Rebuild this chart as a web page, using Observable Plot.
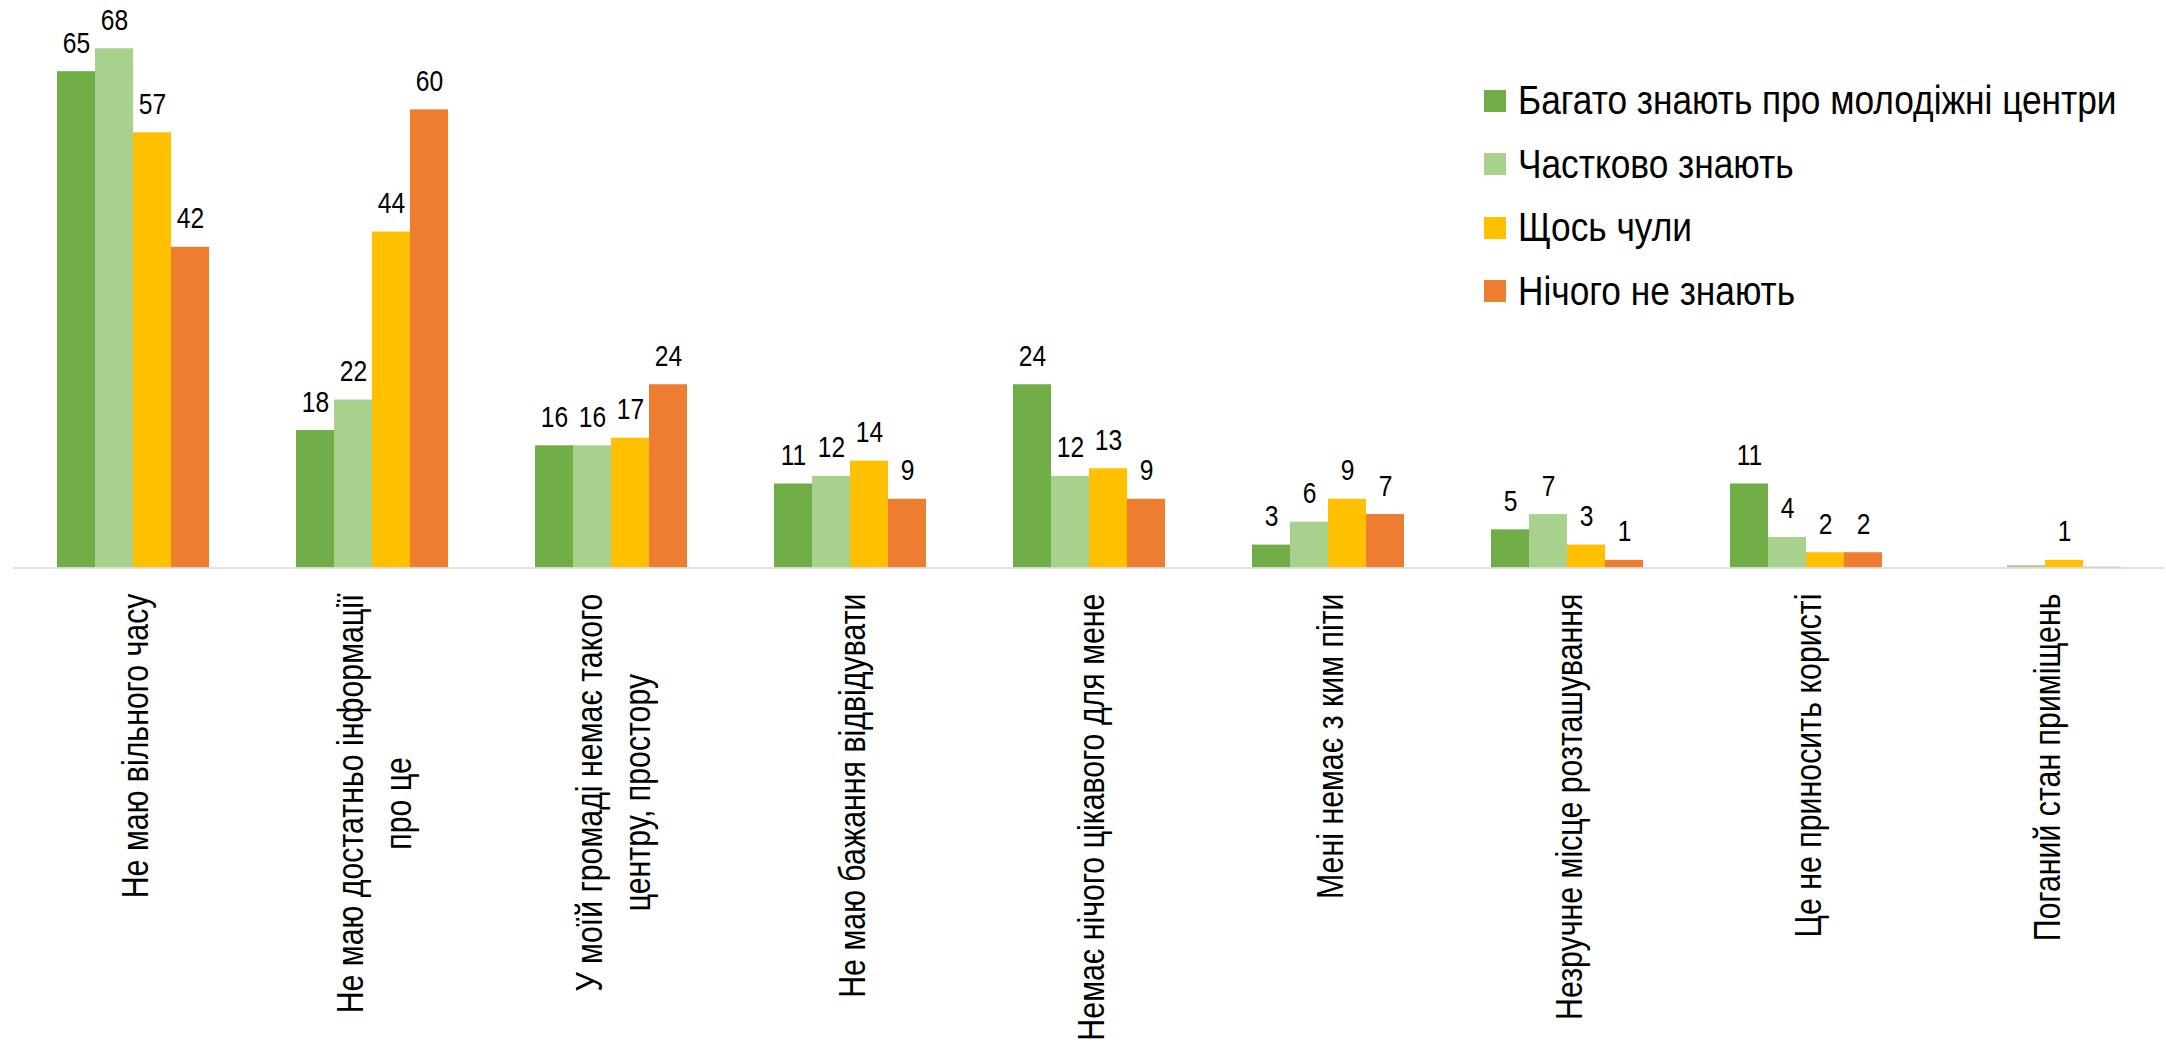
<!DOCTYPE html>
<html>
<head>
<meta charset="utf-8">
<script src="https://cdn.jsdelivr.net/npm/d3@7"></script>
<script src="https://cdn.jsdelivr.net/npm/@observablehq/plot@0.6"></script>
<style>
  body { margin: 0; background: #fff; }
  #wrap { position: relative; width: 2166px; height: 1044px; overflow: hidden; background: #fff; }
  .legend { position: absolute; left: 1484px; top: 69px; font-family: 'Liberation Sans Narrow','Arial Narrow','Liberation Sans',Arial,sans-serif; font-size: 41px; color: #000; }
  .legend .row { display: flex; align-items: center; height: 63.5px; white-space: nowrap; }
  .legend .sw { width: 22px; height: 22px; margin-right: 12px; flex: none; }
  .legend .tx { display: inline-block; transform: scaleX(0.86); transform-origin: left center; }
</style>
</head>
<body>
<div id="wrap"></div>
<script>
// Categories (x axis), line breaks as in the reference
const categories = [
  "Не маю вільного часу",
  "Не маю достатньо інформації\nпро це",
  "У моїй громаді немає такого\nцентру, простору",
  "Не маю бажання відвідувати",
  "Немає нічого цікавого для мене",
  "Мені немає з ким піти",
  "Незручне місце розташування",
  "Це не приносить користі",
  "Поганий стан приміщень"
];
// Series names
const series = [
  "Багато знають про молодіжні центри",
  "Частково знають",
  "Щось чули",
  "Нічого не знають"
];
const colors = ["#70AD47", "#A9D18E", "#FFC000", "#ED7D31"];

// Series values (per category)
const bagatoZnayut    = [65, 18, 16, 11, 24, 3, 5, 11, 0];
const chastkovoZnayut = [68, 22, 16, 12, 12, 6, 7, 4, 0.3];
const shchosChuly     = [57, 44, 17, 14, 13, 9, 3, 2, 1];
const nichohoNeZnayut = [42, 60, 24, 9, 9, 7, 1, 2, 0.1];

const seriesValues = [bagatoZnayut, chastkovoZnayut, shchosChuly, nichohoNeZnayut];
const data = categories.flatMap((c, i) =>
  series.map((s, j) => ({category: c, series: s, value: seriesValues[j][i]}))
);

const fontN = "'Liberation Sans Narrow','Arial Narrow','Liberation Sans',Arial,sans-serif";
const narrow = 0.82; // horizontal condensation to mimic Arial Narrow

const plot = Plot.plot({
  width: 2166,
  height: 1044,
  marginLeft: 10,
  marginRight: 0,
  marginTop: 33,
  marginBottom: 476.5,
  style: {fontFamily: fontN, background: "white", color: "#000"},
  fx: {domain: categories, padding: 0, axis: null, label: null},
  x: {domain: series, paddingInner: 0, paddingOuter: 1.09, axis: null, label: null},
  y: {domain: [0, 70], axis: null, label: null},
  color: {domain: series, range: colors},
  marks: [
    Plot.barY(data, {fx: "category", x: "series", y: "value", fill: "series"}),
    Plot.ruleY([0], {stroke: "#D9D9D9", strokeWidth: 1.5}),
    Plot.text(data.filter(d => d.value >= 0.5), {
      fx: "category", x: "series", y: "value",
      text: d => d3.format(".0f")(d.value),
      dy: -19, lineAnchor: "bottom", fontSize: 30, fill: "#000"
    }),
    Plot.text(categories, {
      fx: d => d,
      text: d => d,
      frameAnchor: "bottom",
      dy: 25.5,
      rotate: -90,
      textAnchor: "end",
      lineAnchor: "middle",
      fontSize: 37,
      lineHeight: 1.3,
      fill: "#000"
    })
  ]
});

const wrap = document.getElementById("wrap");
wrap.append(plot);

plot.querySelectorAll("text").forEach(t => {
  // Center shorter lines of multi-line category labels relative to the longest line
  const spans = Array.from(t.querySelectorAll("tspan"));
  if (spans.length > 1) {
    const max = d3.max(spans, s => s.getComputedTextLength());
    t.setAttribute("text-anchor", "middle");
    spans.forEach(s => s.setAttribute("x", -max / 2));
  }
  // Condense glyphs along the text direction
  const tr = t.getAttribute("transform");
  if (tr) {
    t.setAttribute("transform", `${tr} scale(${narrow},1)`);
  } else {
    const x = +t.getAttribute("x") || 0, y = +t.getAttribute("y") || 0;
    t.setAttribute("transform", `translate(${x},${y}) scale(${narrow},1) translate(${-x},${-y})`);
  }
});

// Legend overlay (top-right, inside the plot area)
const legend = document.createElement("div");
legend.className = "legend";
series.forEach((s, i) => {
  const row = document.createElement("div");
  row.className = "row";
  const sw = document.createElement("span");
  sw.className = "sw";
  sw.style.background = colors[i];
  const tx = document.createElement("span");
  tx.className = "tx";
  tx.textContent = s;
  row.append(sw, tx);
  legend.append(row);
});
wrap.append(legend);
</script>
</body>
</html>
